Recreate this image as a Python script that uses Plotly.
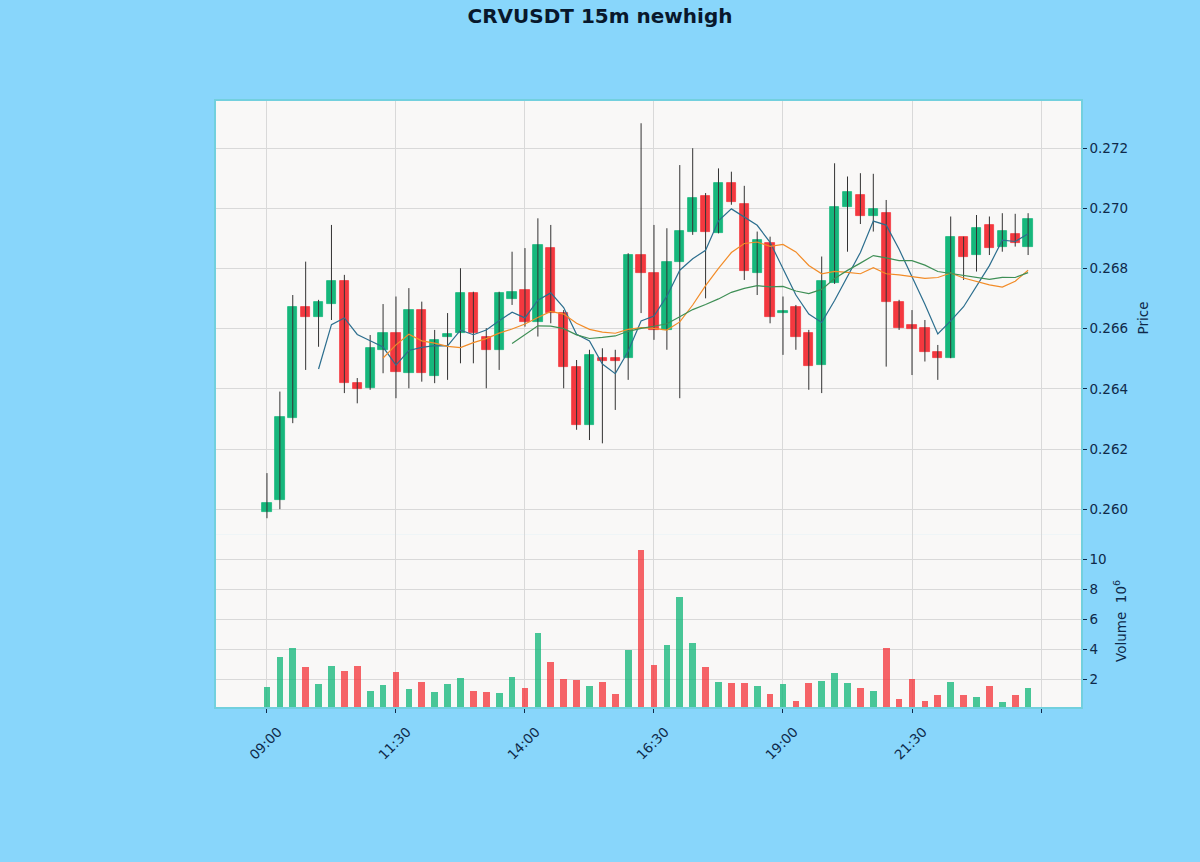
import pandas as pd
import plotly.graph_objects as go
from plotly.subplots import make_subplots

# ---------------- data ----------------
opens = [0.2599, 0.2603, 0.26302, 0.26673, 0.2664, 0.26682, 0.26757, 0.26421, 0.26402, 0.2653,
         0.26585, 0.26452, 0.26662, 0.26443, 0.26572, 0.26585, 0.26718, 0.26574, 0.2653, 0.26699,
         0.26729, 0.26624, 0.26868, 0.26652, 0.26474, 0.2628, 0.26504, 0.26503, 0.26502, 0.26845,
         0.26786, 0.26596, 0.26823, 0.26923, 0.27042, 0.26917, 0.27084, 0.27015, 0.26784, 0.26884,
         0.26652, 0.26673, 0.26585, 0.2648, 0.26753, 0.27004, 0.27045, 0.26975, 0.26984, 0.2669,
         0.26613, 0.26602, 0.26522, 0.26502, 0.26906, 0.26844, 0.26945, 0.26873, 0.26915, 0.26873]
highs = [0.2612, 0.26391, 0.26712, 0.26823, 0.26696, 0.26945, 0.26779, 0.26436, 0.26579, 0.26682,
         0.26707, 0.26735, 0.2669, 0.26596, 0.26652, 0.26801, 0.26723, 0.26602, 0.26723, 0.26856,
         0.26868, 0.26967, 0.26945, 0.26662, 0.26496, 0.2653, 0.26535, 0.2653, 0.26851, 0.27283,
         0.26945, 0.26934, 0.27144, 0.272, 0.27051, 0.27133, 0.27122, 0.27075, 0.26923, 0.26906,
         0.26707, 0.26679, 0.26596, 0.2684, 0.2715, 0.27106, 0.27117, 0.27115, 0.27028, 0.26696,
         0.26662, 0.26629, 0.26546, 0.26973, 0.26906, 0.26978, 0.26973, 0.26984, 0.26982, 0.26984]
lows = [0.2597, 0.2600, 0.26286, 0.26463, 0.2654, 0.26629, 0.26386, 0.26352, 0.26397, 0.26452,
        0.26369, 0.26402, 0.26424, 0.26419, 0.2643, 0.26485, 0.26485, 0.26402, 0.26463, 0.26679,
        0.26607, 0.26574, 0.26618, 0.26402, 0.26264, 0.2623, 0.26219, 0.2633, 0.2643, 0.26652,
        0.26563, 0.2653, 0.26369, 0.26912, 0.26701, 0.26917, 0.27012, 0.26762, 0.26712, 0.26618,
        0.26513, 0.2653, 0.26397, 0.26386, 0.26749, 0.26856, 0.26948, 0.26923, 0.26474, 0.26596,
        0.26446, 0.26491, 0.2643, 0.26502, 0.26762, 0.2679, 0.26845, 0.26856, 0.26873, 0.26845]
closes = [0.2602, 0.26308, 0.26673, 0.2664, 0.2669, 0.26757, 0.26419, 0.26399, 0.26535, 0.26585,
          0.26457, 0.26662, 0.26452, 0.26563, 0.26582, 0.26718, 0.26585, 0.2653, 0.26718, 0.26723,
          0.26624, 0.26879, 0.26652, 0.26474, 0.2628, 0.26513, 0.26493, 0.26493, 0.26845, 0.26784,
          0.26596, 0.26823, 0.26925, 0.27036, 0.26923, 0.27086, 0.27022, 0.26793, 0.26895, 0.2664,
          0.2666, 0.26572, 0.26476, 0.26757, 0.27004, 0.27056, 0.26975, 0.26997, 0.2669, 0.26602,
          0.26598, 0.26521, 0.26502, 0.26906, 0.26838, 0.26935, 0.26868, 0.26925, 0.26884, 0.26965]
volumes_m = [1.51, 3.47, 4.11, 2.84, 1.69, 2.91, 2.58, 2.91, 1.22, 1.62,
             2.51, 1.38, 1.84, 1.15, 1.69, 2.11, 1.22, 1.15, 1.11, 2.18,
             1.44, 5.07, 3.18, 2.02, 1.95, 1.58, 1.84, 1.0, 3.95, 10.62,
             2.95, 4.27, 7.51, 4.40, 2.84, 1.84, 1.73, 1.78, 1.55, 1.02,
             1.67, 0.55, 1.78, 1.89, 2.44, 1.78, 1.44, 1.22, 4.11, 0.69,
             2.0, 0.58, 0.95, 1.84, 0.93, 0.84, 1.55, 0.47, 0.98, 1.44]
tick_positions = [0, 10, 20, 30, 40, 50]
tick_labels = ["09:00", "11:30", "14:00", "16:30", "19:00", "21:30"]
unlabeled_tick_positions = [60]
price_ticks = [0.260, 0.262, 0.264, 0.266, 0.268, 0.270, 0.272]
price_tick_labels = ["0.260", "0.262", "0.264", "0.266", "0.268", "0.270", "0.272"]
volume_ticks = [2, 4, 6, 8, 10]
volume_tick_labels = ["2", "4", "6", "8", "10"]
ma_periods = [5, 10, 20]

# ---------------- styling ----------------
UP = "#16b77c"
DOWN = "#f4383f"
UP_VOL = "rgba(22,183,124,0.78)"
DOWN_VOL = "rgba(244,56,63,0.78)"
WICK = "#333333"
MA_COLORS = ["#2c6e8e", "#f28c28", "#3f8f56"]
BG = "#88d6fb"
PLOT_BG = "#f9f8f7"
GRID = "#d9d9d9"
SPINE = "#72d0de"
TXT = "#0f2a4a"
FONT = "DejaVu Sans"

n = len(closes)
idx = list(range(n))
colors = [UP if c >= o else DOWN for o, c in zip(opens, closes)]
vol_colors = [UP_VOL if c >= o else DOWN_VOL for o, c in zip(opens, closes)]

fig = make_subplots(rows=2, cols=1, shared_xaxes=True, vertical_spacing=0,
                    row_heights=[0.716, 0.284])

# wicks
wx, wy = [], []
for i in idx:
    wx += [i, i, None]
    wy += [lows[i], highs[i], None]
fig.add_trace(go.Scatter(x=wx, y=wy, mode="lines", line=dict(color=WICK, width=1),
                         hoverinfo="skip", showlegend=False), row=1, col=1)

# bodies
fig.add_trace(go.Bar(x=idx, base=opens, y=[c - o for o, c in zip(opens, closes)],
                     width=0.72, marker=dict(color=colors, line=dict(color=colors, width=0.8)),
                     showlegend=False), row=1, col=1)

# moving averages
cs = pd.Series(closes)
for p, col in zip(ma_periods, MA_COLORS):
    ma = cs.rolling(p).mean()
    fig.add_trace(go.Scatter(x=idx, y=ma, mode="lines", line=dict(color=col, width=1.2),
                             showlegend=False, hoverinfo="skip"), row=1, col=1)

# volume
fig.add_trace(go.Bar(x=idx, y=volumes_m, width=0.52, marker=dict(color=vol_colors, line=dict(width=0)),
                     showlegend=False), row=2, col=1)

tickfont = dict(family=FONT, size=13.5, color=TXT)

# x axes
fig.update_xaxes(range=[-3.95, 63.1], tickmode="array", tickvals=tick_positions, ticktext=tick_labels,
                 showgrid=True, gridcolor=GRID, gridwidth=1, zeroline=False,
                 showline=True, linecolor=SPINE, linewidth=1.5, mirror=False,
                 tickfont=tickfont,
                 minor=dict(tickmode="array", tickvals=unlabeled_tick_positions, showgrid=True,
                            gridcolor=GRID, gridwidth=1))
fig.update_xaxes(side="top", showticklabels=False, ticks="",
                 minor=dict(ticks=""), row=1, col=1)
fig.update_xaxes(side="bottom", tickangle=-45, ticks="outside", ticklen=4, tickcolor=TXT,
                 ticklabelshift=11, ticklabelstandoff=6,
                 minor=dict(ticks="outside", ticklen=4, tickcolor=TXT), row=2, col=1)

# y axes
fig.update_yaxes(side="right", showgrid=True, gridcolor=GRID, gridwidth=1, zeroline=False,
                 showline=True, linecolor=SPINE, linewidth=1.5, mirror=True,
                 ticks="outside", ticklen=4, tickcolor=TXT, tickfont=tickfont)
fig.update_yaxes(range=[0.259146, 0.27357], tickmode="array",
                 tickvals=price_ticks, ticktext=price_tick_labels,
                 title=dict(text="Price", font=dict(family=FONT, size=13.5, color=TXT), standoff=11),
                 row=1, col=1)
fig.update_yaxes(range=[0.153, 11.62], tickmode="array", tickvals=volume_ticks,
                 ticktext=volume_tick_labels,
                 title=dict(text="Volume  10<sup>6</sup>", font=dict(family=FONT, size=13.5, color=TXT),
                            standoff=11),
                 row=2, col=1)

fig.update_layout(
    width=1200, height=862,
    margin=dict(l=216, r=119, t=101, b=155),
    paper_bgcolor=BG, plot_bgcolor=PLOT_BG,
    barmode="overlay", bargap=0,
    showlegend=False,
    font=dict(family=FONT, color=TXT),
    title=dict(text="<b>CRVUSDT 15m newhigh</b>", x=0.5, xref="container", xanchor="center",
               y=0.981, yref="container", yanchor="middle",
               font=dict(family=FONT, size=20, color="#08182c")),
)

fig.write_html("out.html", config={"displayModeBar": False},
               post_script="document.body.style.margin='0';document.body.style.padding='0';"
                           "document.body.style.overflow='hidden';"
                           "document.body.style.background='" + BG + "';")
